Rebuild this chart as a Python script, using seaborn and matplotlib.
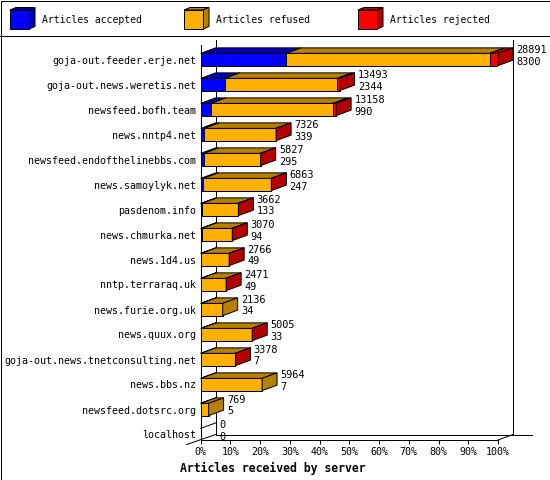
import pandas as pd
import matplotlib
matplotlib.use('Agg')
import matplotlib.pyplot as plt
import seaborn as sns
import numpy as np

# data
servers = ['goja-out.feeder.erje.net', 'goja-out.news.weretis.net', 'newsfeed.bofh.team',
           'news.nntp4.net', 'newsfeed.endofthelinebbs.com', 'news.samoylyk.net',
           'pasdenom.info', 'news.chmurka.net', 'news.1d4.us', 'nntp.terraraq.uk',
           'news.furie.org.uk', 'news.quux.org', 'goja-out.news.tnetconsulting.net',
           'news.bbs.nz', 'newsfeed.dotsrc.org', 'localhost']
received = [28891, 13493, 13158, 7326, 5827, 6863, 3662, 3070, 2766, 2471,
            2136, 5005, 3378, 5964, 769, 0]
accepted = [8300, 2344, 990, 339, 295, 247, 133, 94, 49, 49, 34, 33, 7, 7, 5, 0]
# rejected is only visible as a thin red slice / red end face
rejected = [800, 240, 330, 15, 12, 14, 10, 8, 9, 7, 0, 11, 6, 0, 0, 0]
xticks = [0, 10, 20, 30, 40, 50, 60, 70, 80, 90, 100]

colors = {'acc': '#0000ff', 'ref': '#ffb000', 'rej': '#ff0000'}
dark = {'acc': '#0000b4', 'ref': '#b88000', 'rej': '#b40000'}

df = pd.DataFrame({'server': servers, 'received': received,
                   'accepted': accepted, 'rejected': rejected})
df['refused'] = df['received'] - df['accepted'] - df['rejected']
top = df['received'].max()
df['p_acc'] = df['accepted'] / top * 100
df['p_ref'] = df['refused'] / top * 100
df['p_rej'] = df['rejected'] / top * 100
df['p_all'] = df['p_acc'] + df['p_ref'] + df['p_rej']
df['p_accref'] = df['p_acc'] + df['p_ref']

plt.rcParams['font.family'] = ['DejaVu Sans Mono']
plt.rcParams['font.size'] = 7

W, H = 550, 480
fig = plt.figure(figsize=(5.5, 4.8), dpi=100)
fig.patch.set_facecolor('white')

# main axes: front plane, 0% at px 200.7, 100% at px 498
x0, x1 = 200.7, 498.0
ytop, ybot = 45, 440
ax = fig.add_axes([x0 / W, (H - ybot) / H, (x1 - x0) / W, (ybot - ytop) / H])

bw = 0.49
lw = 0.72
sns.barplot(data=df, y='server', x='p_all', color=colors['rej'], orient='h', width=bw,
            saturation=1, errorbar=None, edgecolor='black', linewidth=lw, ax=ax)
sns.barplot(data=df, y='server', x='p_accref', color=colors['ref'], orient='h', width=bw,
            saturation=1, errorbar=None, edgecolor='black', linewidth=lw, ax=ax)
sns.barplot(data=df, y='server', x='p_acc', color=colors['acc'], orient='h', width=bw,
            saturation=1, errorbar=None, edgecolor='black', linewidth=lw, ax=ax)

ax.set_xlim(0, 100)
row0 = 59.5
ax.set_ylim((ybot - row0) / 25, (ytop - row0) / 25)

# depth of the 3d effect in data units
dx = 15 / ((x1 - x0) / 100)
dy = 5.5 / 25

# back wall lines
yb_front = (ybot - row0) / 25
yb_back = yb_front - dy
ytop_back = (40 - row0) / 25
ax.plot([dx, dx], [yb_back, ytop_back], color='black', lw=lw, clip_on=False, zorder=0.5)
ax.plot([100 + dx, 100 + dx], [yb_back, ytop_back], color='black', lw=lw, clip_on=False, zorder=0.5)
ax.plot([dx, 100 + dx + 6.5], [yb_back, yb_back], color='black', lw=lw, clip_on=False, zorder=0.5)
ax.plot([-4.7, dx], [yb_front + 4.5 / 25, yb_back], color='black', lw=lw, clip_on=False, zorder=0.5)
ax.plot([100, 100 + dx], [yb_front, yb_back], color='black', lw=lw, clip_on=False, zorder=0.5)

# top and side faces of each bar
for i, r in df.iterrows():
    yt = i - bw / 2
    segs = [(0, r['p_acc'], 'acc'), (r['p_acc'], r['p_accref'], 'ref'),
            (r['p_accref'], r['p_all'], 'rej')]
    last = None
    for a, b, k in segs:
        if b - a > 0:
            ax.fill([a, b, b + dx, a + dx], [yt, yt, yt - dy, yt - dy], facecolor=dark[k],
                    edgecolor='black', lw=lw, clip_on=False, zorder=3)
            last = k
    e = r['p_all']
    if last is None:
        ax.plot([0, dx], [yt, yt - dy], color='black', lw=lw, clip_on=False, zorder=3)
        ax.plot([0, 0], [yt, i + bw / 2], color='black', lw=lw, clip_on=False, zorder=3)
    else:
        ax.fill([e, e + dx, e + dx, e], [yt, yt - dy, i + bw / 2 - dy, i + bw / 2],
                facecolor=dark[last], edgecolor='black', lw=lw, clip_on=False, zorder=3)
    ax.text(e + dx + 1.1, i - 0.39, str(r['received']), va='center', ha='left', fontsize=7.4)
    ax.text(e + dx + 1.1, i + 0.08, str(r['accepted']), va='center', ha='left', fontsize=7.4)

sns.despine(ax=ax, top=True, right=True)
for s in ['left', 'bottom']:
    ax.spines[s].set_linewidth(lw)
ax.set_ylabel('')
ax.tick_params(axis='y', length=0, pad=3.3, labelsize=7.2)
ax.set_xticks(xticks)
ax.set_xticklabels([f'{t}%' for t in xticks])
ax.tick_params(axis='x', length=3, width=lw, pad=2, labelsize=7.2)
ax.set_xlabel('Articles received by server', fontweight='bold', fontsize=8.3, ha='left')
ax.xaxis.set_label_coords((180 - x0) / (x1 - x0), -0.055)
ax.set_facecolor('none')

# legend strip with 3d boxes
lax = fig.add_axes([0, 0, 1, 1], zorder=-1)
lax.set_xlim(0, W)
lax.set_ylim(H, 0)
lax.axis('off')
legend = [('acc', 'Articles accepted', 10), ('ref', 'Articles refused', 184),
          ('rej', 'Articles rejected', 358)]
for k, label, bx in legend:
    lax.fill([bx, bx + 6, bx + 25, bx + 19], [10, 7.5, 7.5, 10], facecolor=dark[k],
             edgecolor='black', lw=lw)
    lax.fill([bx + 19, bx + 25, bx + 25, bx + 19], [10, 7.5, 26.5, 29], facecolor=dark[k],
             edgecolor='black', lw=lw)
    lax.fill([bx, bx + 19, bx + 19, bx], [10, 10, 29, 29], facecolor=colors[k],
             edgecolor='black', lw=lw)
    lax.text(bx + 32, 20, label, va='center', ha='left', fontsize=7)
lax.plot([0, W], [35.5, 35.5], color='black', lw=lw)
lax.plot([0.5, W - 0.5, W - 0.5, 0.5, 0.5], [0.5, 0.5, H - 0.5, H - 0.5, 0.5], color='black', lw=lw)

fig.savefig('out.png', dpi=100, facecolor='white')
